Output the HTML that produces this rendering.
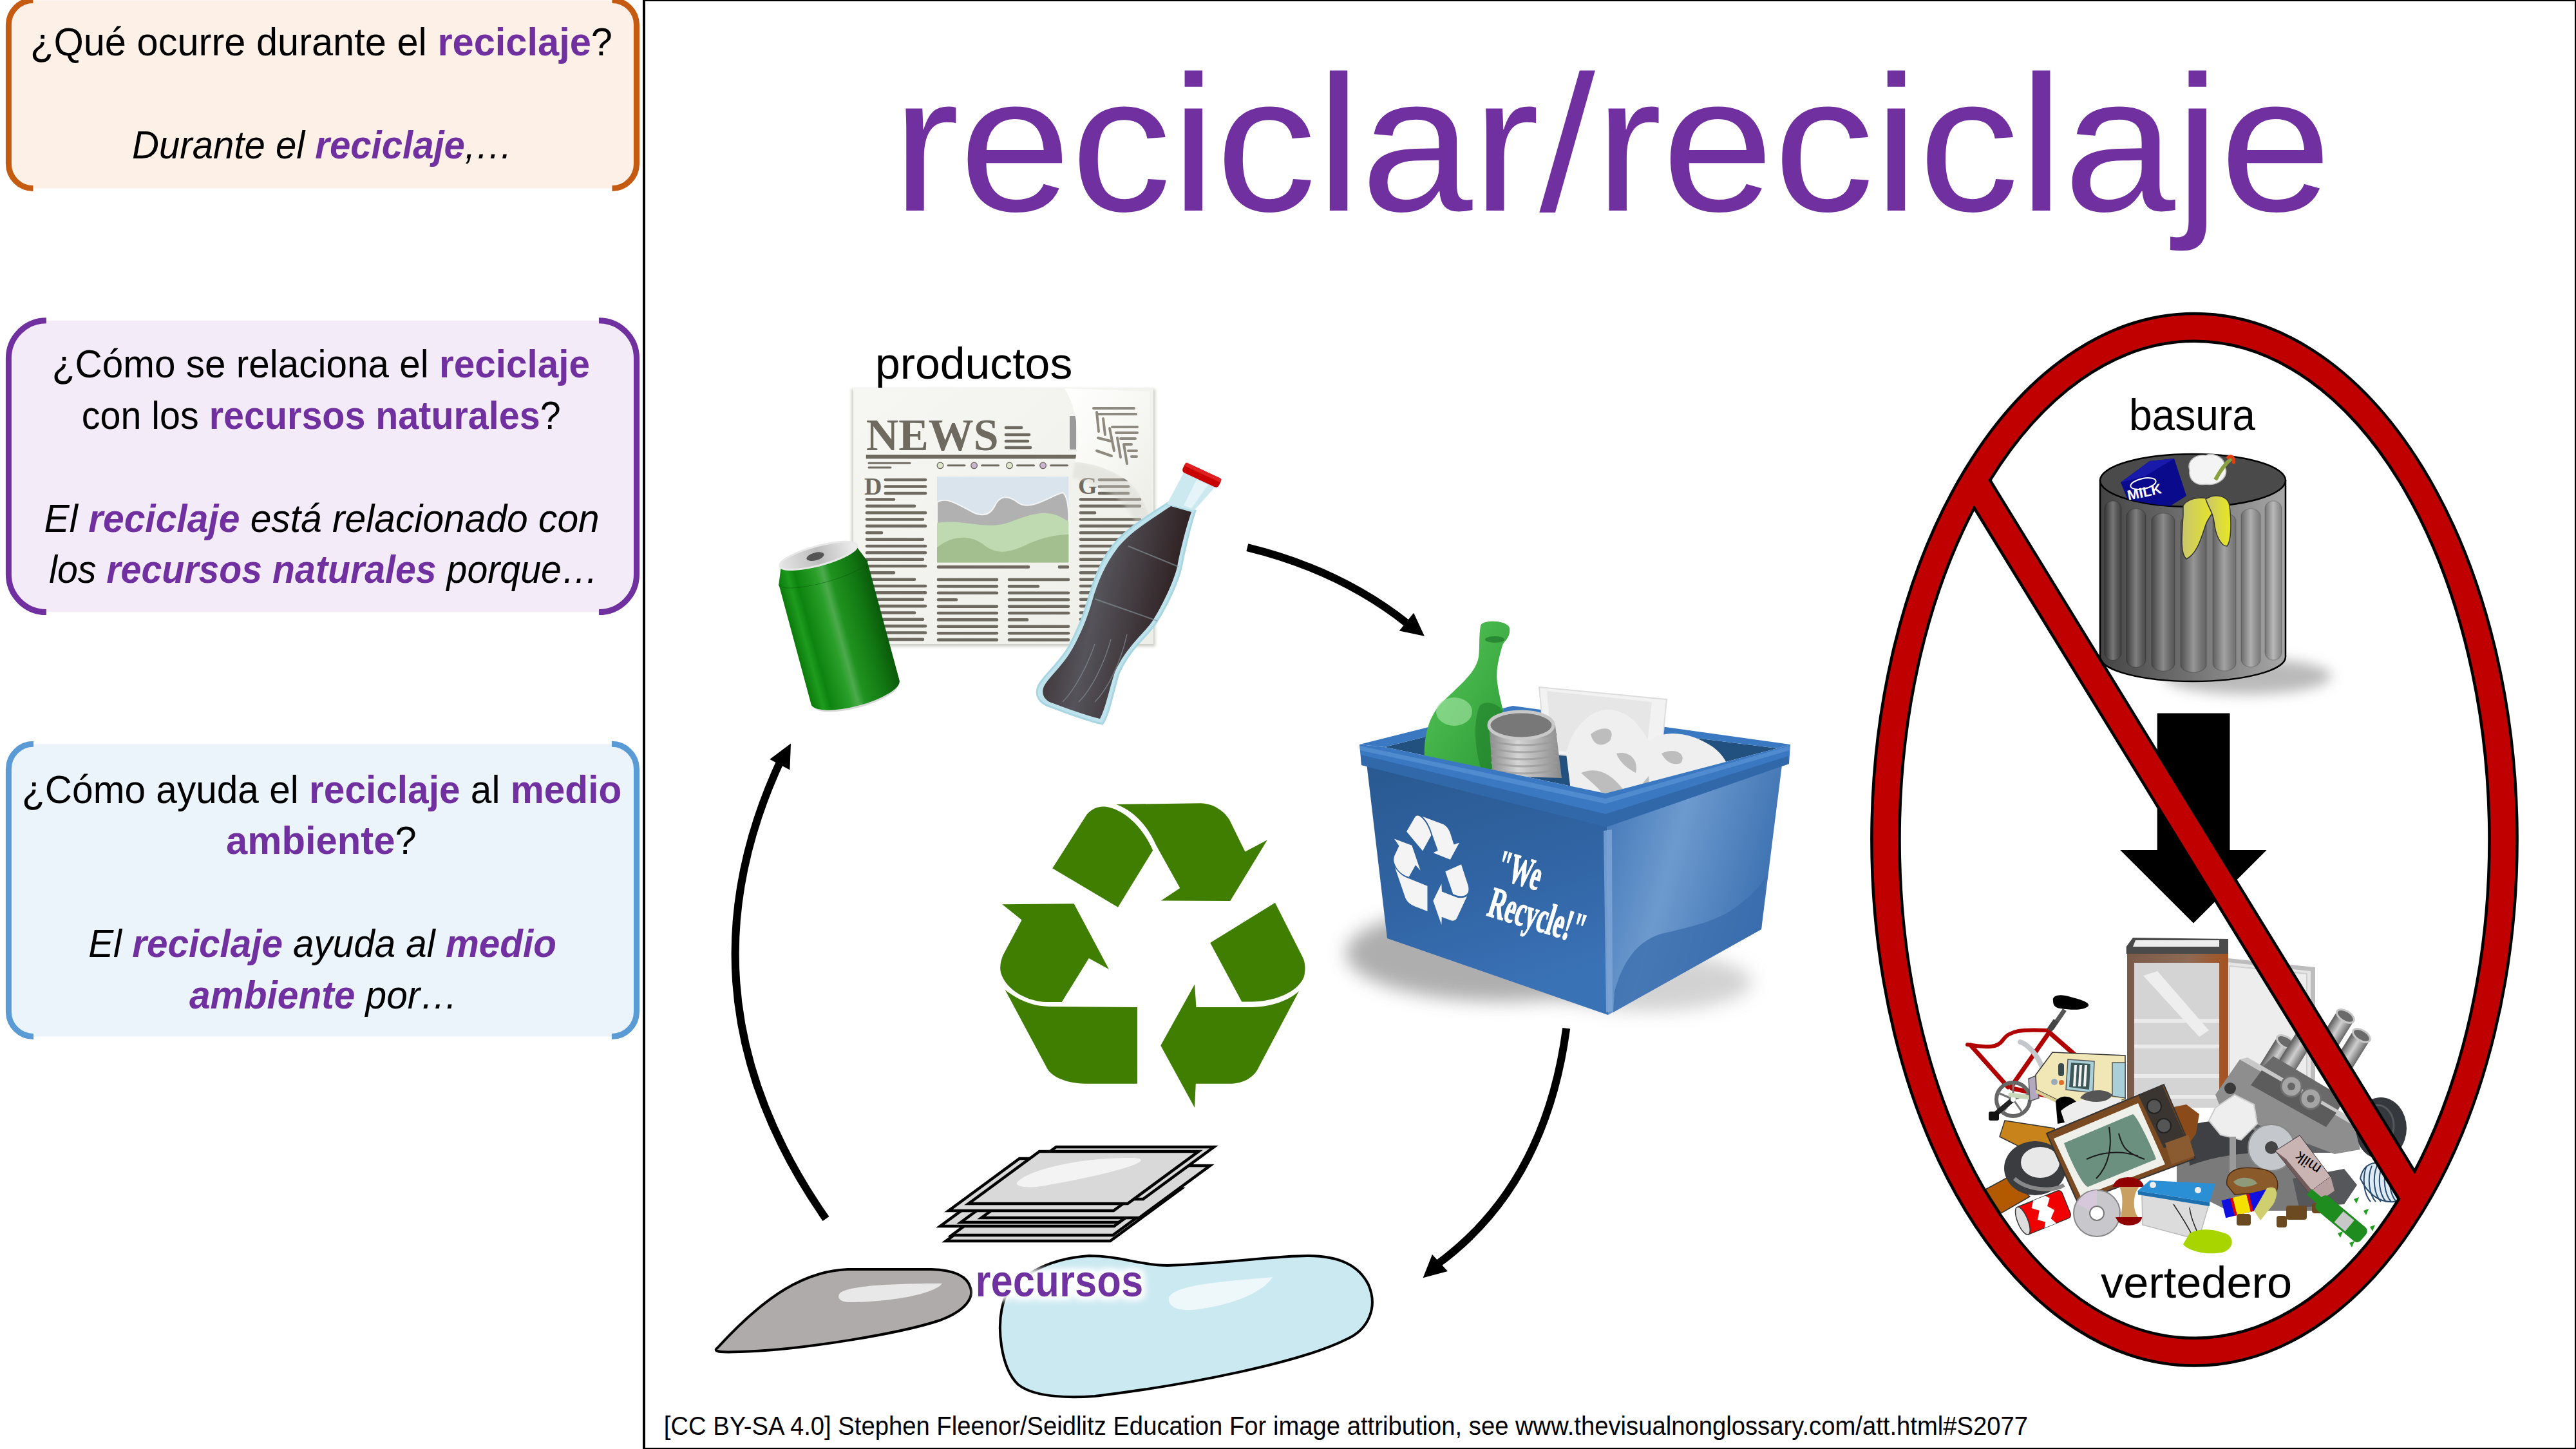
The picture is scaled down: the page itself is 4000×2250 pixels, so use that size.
<!DOCTYPE html>
<html><head><meta charset="utf-8"><style>
html,body{margin:0;padding:0;background:#fff;overflow:hidden}
svg{display:block}
</style></head><body>
<svg width="4000" height="2250" viewBox="0 0 4000 2250">
<rect x="13.4" y="0.5" width="975.1" height="292.0" rx="38" ry="38" fill="#FDF0E7"/><path d="M51.4,0.5 A38,38 0 0 0 13.4,38.5 L13.4,254.5 A38,38 0 0 0 51.4,292.5" fill="none" stroke="#C55A11" stroke-width="9"/><path d="M950.5,0.5 A38,38 0 0 1 988.5,38.5 L988.5,254.5 A38,38 0 0 1 950.5,292.5" fill="none" stroke="#C55A11" stroke-width="9"/>
<rect x="13.4" y="497.7" width="975.1" height="452.90000000000003" rx="58.5" ry="58.5" fill="#F3EBF8"/><path d="M71.9,497.7 A58.5,58.5 0 0 0 13.4,556.2 L13.4,892.1 A58.5,58.5 0 0 0 71.9,950.6" fill="none" stroke="#7030A0" stroke-width="9"/><path d="M930.0,497.7 A58.5,58.5 0 0 1 988.5,556.2 L988.5,892.1 A58.5,58.5 0 0 1 930.0,950.6" fill="none" stroke="#7030A0" stroke-width="9"/>
<rect x="13.4" y="1155.3" width="975.1" height="454.20000000000005" rx="38.6" ry="38.6" fill="#EBF3FB"/><path d="M52.0,1155.3 A38.6,38.6 0 0 0 13.4,1193.8999999999999 L13.4,1570.9 A38.6,38.6 0 0 0 52.0,1609.5" fill="none" stroke="#5B9BD5" stroke-width="9"/><path d="M949.9,1155.3 A38.6,38.6 0 0 1 988.5,1193.8999999999999 L988.5,1570.9 A38.6,38.6 0 0 1 949.9,1609.5" fill="none" stroke="#5B9BD5" stroke-width="9"/>
<g font-family="Liberation Sans, sans-serif">
<text x="47.0" y="86.4" font-size="61" textLength="904.0" lengthAdjust="spacingAndGlyphs" style="" fill="#000"><tspan>¿Qué ocurre durante el </tspan><tspan font-weight="bold" fill="#7030A0">reciclaje</tspan><tspan>?</tspan></text>
<text x="205.0" y="245.9" font-size="61" textLength="591.2" lengthAdjust="spacingAndGlyphs" style="font-style:italic;" fill="#000"><tspan>Durante el </tspan><tspan font-weight="bold" fill="#7030A0">reciclaje</tspan><tspan>,…</tspan></text>
<text x="80.8" y="586.2" font-size="61" textLength="835.2" lengthAdjust="spacingAndGlyphs" style="" fill="#000"><tspan>¿Cómo se relaciona el </tspan><tspan font-weight="bold" fill="#7030A0">reciclaje</tspan></text>
<text x="126.8" y="665.7" font-size="61" textLength="743.8" lengthAdjust="spacingAndGlyphs" style="" fill="#000"><tspan>con los </tspan><tspan font-weight="bold" fill="#7030A0">recursos naturales</tspan><tspan>?</tspan></text>
<text x="68.6" y="825.8" font-size="61" textLength="862.2" lengthAdjust="spacingAndGlyphs" style="font-style:italic;" fill="#000"><tspan>El </tspan><tspan font-weight="bold" fill="#7030A0">reciclaje</tspan><tspan> está relacionado con</tspan></text>
<text x="76.2" y="905" font-size="61" textLength="852.9" lengthAdjust="spacingAndGlyphs" style="font-style:italic;" fill="#000"><tspan>los </tspan><tspan font-weight="bold" fill="#7030A0">recursos naturales</tspan><tspan> porque…</tspan></text>
<text x="34.0" y="1247.2" font-size="61" textLength="931.2" lengthAdjust="spacingAndGlyphs" style="" fill="#000"><tspan>¿Cómo ayuda el </tspan><tspan font-weight="bold" fill="#7030A0">reciclaje</tspan><tspan> al </tspan><tspan font-weight="bold" fill="#7030A0">medio</tspan></text>
<text x="351.0" y="1325.9" font-size="61" textLength="295.7" lengthAdjust="spacingAndGlyphs" style="" fill="#000"><tspan font-weight="bold" fill="#7030A0">ambiente</tspan><tspan>?</tspan></text>
<text x="137.2" y="1486.4" font-size="61" textLength="726.6" lengthAdjust="spacingAndGlyphs" style="font-style:italic;" fill="#000"><tspan>El </tspan><tspan font-weight="bold" fill="#7030A0">reciclaje</tspan><tspan> ayuda al </tspan><tspan font-weight="bold" fill="#7030A0">medio</tspan></text>
<text x="294.0" y="1565.8" font-size="61" textLength="416.9" lengthAdjust="spacingAndGlyphs" style="font-style:italic;" fill="#000"><tspan font-weight="bold" fill="#7030A0">ambiente</tspan><tspan> por…</tspan></text>
</g>
<rect x="1000" y="0" width="3000" height="2250" fill="none" stroke="#000" stroke-width="4"/>
<path d="M1936.8,850.2 Q2080,885 2185,968" fill="none" stroke="#000" stroke-width="12"/><polygon points="2211.9,987.7 2195.2,951.7 2172.8,979.6" fill="#000"/><path d="M2432.2,1596.8 Q2400,1840 2232,1963" fill="none" stroke="#000" stroke-width="12"/><polygon points="2209.6,1984.3 2224,1948 2248,1974" fill="#000"/><path d="M1282.5,1892.5 Q1040,1545 1215,1175" fill="none" stroke="#000" stroke-width="12"/><polygon points="1228,1154.5 1195.3,1179 1226.4,1195.4" fill="#000"/>
<defs><linearGradient id="npg" x1="0" y1="0" x2="1" y2="1"><stop offset="0" stop-color="#F6F6F2"/><stop offset="1" stop-color="#EFEFEA"/></linearGradient><linearGradient id="curlg" x1="0" y1="0" x2="1" y2="1"><stop offset="0" stop-color="#FFFFFF"/><stop offset="0.5" stop-color="#F7F7F3"/><stop offset="1" stop-color="#ECECE6"/></linearGradient><filter id="npsh" x="-5%" y="-5%" width="110%" height="110%"><feGaussianBlur stdDeviation="2"/></filter></defs>
<rect x="1322" y="604" width="472" height="400" fill="#CFCFC8" filter="url(#npsh)"/>
<rect x="1325" y="603" width="466" height="397" fill="url(#npg)"/>
<rect x="1661" y="646" width="10" height="52" fill="#9A9A9A"/>
<text x="1344.8" y="698.7" font-family="Liberation Serif, serif" font-weight="bold" font-size="70" fill="#6E6A60" textLength="205.8" lengthAdjust="spacingAndGlyphs">NEWS</text>
<line x1="1562" y1="664" x2="1586" y2="664" stroke="#6E6A60" stroke-width="4.6" stroke-linecap="round"/>
<line x1="1562" y1="675" x2="1598" y2="675" stroke="#6E6A60" stroke-width="4.6" stroke-linecap="round"/>
<line x1="1562" y1="685" x2="1596" y2="685" stroke="#6E6A60" stroke-width="4.6" stroke-linecap="round"/>
<line x1="1562" y1="695" x2="1600" y2="695" stroke="#6E6A60" stroke-width="4.6" stroke-linecap="round"/>
<rect x="1344.8" y="706" width="330" height="6.3" fill="#6E6A60"/>
<line x1="1349" y1="719" x2="1413" y2="719" stroke="#6E6A60" stroke-width="3" stroke-linecap="round"/>
<line x1="1349" y1="726" x2="1383" y2="726" stroke="#6E6A60" stroke-width="3" stroke-linecap="round"/>
<circle cx="1460" cy="722.8" r="4.8" fill="#DDE6C8" stroke="#6E6A60" stroke-width="1.3"/>
<line x1="1472" y1="722.8" x2="1498" y2="722.8" stroke="#6E6A60" stroke-width="3" stroke-linecap="round"/>
<circle cx="1512.6" cy="722.8" r="4.8" fill="#C9B5CF" stroke="#6E6A60" stroke-width="1.3"/>
<line x1="1524.6" y1="722.8" x2="1550.6" y2="722.8" stroke="#6E6A60" stroke-width="3" stroke-linecap="round"/>
<circle cx="1567.5" cy="722.8" r="4.8" fill="#DDE6C8" stroke="#6E6A60" stroke-width="1.3"/>
<line x1="1579.5" y1="722.8" x2="1605.5" y2="722.8" stroke="#6E6A60" stroke-width="3" stroke-linecap="round"/>
<circle cx="1619.6" cy="722.8" r="4.8" fill="#C9B5CF" stroke="#6E6A60" stroke-width="1.3"/>
<line x1="1631.6" y1="722.8" x2="1657.6" y2="722.8" stroke="#6E6A60" stroke-width="3" stroke-linecap="round"/>
<text x="1342" y="768" font-family="Liberation Serif, serif" font-weight="bold" font-size="38" fill="#6E6A60">D</text>
<text x="1674" y="767" font-family="Liberation Serif, serif" font-weight="bold" font-size="38" fill="#6E6A60">G</text>
<line x1="1375" y1="745" x2="1437" y2="745" stroke="#6E6A60" stroke-width="4.6" stroke-linecap="round"/>
<line x1="1375" y1="755.5" x2="1437" y2="755.5" stroke="#6E6A60" stroke-width="4.6" stroke-linecap="round"/>
<line x1="1375" y1="766" x2="1437" y2="766" stroke="#6E6A60" stroke-width="4.6" stroke-linecap="round"/>
<line x1="1346" y1="775.5" x2="1388" y2="775.5" stroke="#6E6A60" stroke-width="4.6" stroke-linecap="round"/>
<line x1="1346" y1="785.85" x2="1420" y2="785.85" stroke="#6E6A60" stroke-width="4.6" stroke-linecap="round"/>
<line x1="1346" y1="796.2" x2="1437" y2="796.2" stroke="#6E6A60" stroke-width="4.6" stroke-linecap="round"/>
<line x1="1346" y1="806.55" x2="1433" y2="806.55" stroke="#6E6A60" stroke-width="4.6" stroke-linecap="round"/>
<line x1="1346" y1="816.9" x2="1437" y2="816.9" stroke="#6E6A60" stroke-width="4.6" stroke-linecap="round"/>
<line x1="1346" y1="827.25" x2="1369" y2="827.25" stroke="#6E6A60" stroke-width="4.6" stroke-linecap="round"/>
<line x1="1346" y1="837.6" x2="1433" y2="837.6" stroke="#6E6A60" stroke-width="4.6" stroke-linecap="round"/>
<line x1="1346" y1="847.95" x2="1437" y2="847.95" stroke="#6E6A60" stroke-width="4.6" stroke-linecap="round"/>
<line x1="1346" y1="858.3" x2="1437" y2="858.3" stroke="#6E6A60" stroke-width="4.6" stroke-linecap="round"/>
<line x1="1346" y1="868.65" x2="1433" y2="868.65" stroke="#6E6A60" stroke-width="4.6" stroke-linecap="round"/>
<line x1="1346" y1="879.0" x2="1437" y2="879.0" stroke="#6E6A60" stroke-width="4.6" stroke-linecap="round"/>
<line x1="1346" y1="889.35" x2="1388" y2="889.35" stroke="#6E6A60" stroke-width="4.6" stroke-linecap="round"/>
<line x1="1346" y1="899.7" x2="1420" y2="899.7" stroke="#6E6A60" stroke-width="4.6" stroke-linecap="round"/>
<line x1="1346" y1="910.05" x2="1437" y2="910.05" stroke="#6E6A60" stroke-width="4.6" stroke-linecap="round"/>
<line x1="1346" y1="920.4" x2="1437" y2="920.4" stroke="#6E6A60" stroke-width="4.6" stroke-linecap="round"/>
<line x1="1346" y1="930.75" x2="1433" y2="930.75" stroke="#6E6A60" stroke-width="4.6" stroke-linecap="round"/>
<line x1="1346" y1="941.1" x2="1437" y2="941.1" stroke="#6E6A60" stroke-width="4.6" stroke-linecap="round"/>
<line x1="1346" y1="951.45" x2="1420" y2="951.45" stroke="#6E6A60" stroke-width="4.6" stroke-linecap="round"/>
<line x1="1346" y1="961.8" x2="1433" y2="961.8" stroke="#6E6A60" stroke-width="4.6" stroke-linecap="round"/>
<line x1="1346" y1="972.15" x2="1437" y2="972.15" stroke="#6E6A60" stroke-width="4.6" stroke-linecap="round"/>
<line x1="1346" y1="982.5" x2="1437" y2="982.5" stroke="#6E6A60" stroke-width="4.6" stroke-linecap="round"/>
<line x1="1346" y1="992.85" x2="1433" y2="992.85" stroke="#6E6A60" stroke-width="4.6" stroke-linecap="round"/>
<rect x="1455" y="740" width="204.3" height="133.5" fill="#DAE4EC"/>
<path d="M1455,780 C1470,770 1490,785 1510,795 C1530,805 1540,795 1545,785 C1552,770 1565,768 1580,780 C1600,795 1630,770 1650,765 C1658,770 1659,790 1659.3,800 L1659.3,873.5 L1455,873.5 Z" fill="#B1B1B1" stroke="#F4F4F4" stroke-width="2"/>
<path d="M1455,812 C1500,805 1530,825 1570,810 C1610,795 1630,790 1659.3,810 L1659.3,873.5 L1455,873.5 Z" fill="#BFDAB0"/>
<path d="M1455,850 C1480,830 1510,830 1530,848 C1550,862 1570,858 1600,843 C1620,835 1640,830 1659.3,830 L1659.3,873.5 L1455,873.5 Z" fill="#A3BF8F"/>
<line x1="1457" y1="880.4" x2="1597" y2="880.4" stroke="#6E6A60" stroke-width="4.6" stroke-linecap="round"/>
<line x1="1645" y1="880.4" x2="1658" y2="880.4" stroke="#6E6A60" stroke-width="4.6" stroke-linecap="round"/>
<line x1="1457" y1="900.0" x2="1548" y2="900.0" stroke="#6E6A60" stroke-width="4.6" stroke-linecap="round"/>
<line x1="1567" y1="900.0" x2="1659" y2="900.0" stroke="#6E6A60" stroke-width="4.6" stroke-linecap="round"/>
<line x1="1457" y1="910.4" x2="1548" y2="910.4" stroke="#6E6A60" stroke-width="4.6" stroke-linecap="round"/>
<line x1="1567" y1="910.4" x2="1612" y2="910.4" stroke="#6E6A60" stroke-width="4.6" stroke-linecap="round"/>
<line x1="1457" y1="920.8" x2="1548" y2="920.8" stroke="#6E6A60" stroke-width="4.6" stroke-linecap="round"/>
<line x1="1567" y1="920.8" x2="1659" y2="920.8" stroke="#6E6A60" stroke-width="4.6" stroke-linecap="round"/>
<line x1="1457" y1="931.2" x2="1485" y2="931.2" stroke="#6E6A60" stroke-width="4.6" stroke-linecap="round"/>
<line x1="1567" y1="931.2" x2="1659" y2="931.2" stroke="#6E6A60" stroke-width="4.6" stroke-linecap="round"/>
<line x1="1457" y1="941.6" x2="1548" y2="941.6" stroke="#6E6A60" stroke-width="4.6" stroke-linecap="round"/>
<line x1="1567" y1="941.6" x2="1659" y2="941.6" stroke="#6E6A60" stroke-width="4.6" stroke-linecap="round"/>
<line x1="1457" y1="952.0" x2="1548" y2="952.0" stroke="#6E6A60" stroke-width="4.6" stroke-linecap="round"/>
<line x1="1567" y1="952.0" x2="1659" y2="952.0" stroke="#6E6A60" stroke-width="4.6" stroke-linecap="round"/>
<line x1="1457" y1="962.4" x2="1548" y2="962.4" stroke="#6E6A60" stroke-width="4.6" stroke-linecap="round"/>
<line x1="1567" y1="962.4" x2="1595" y2="962.4" stroke="#6E6A60" stroke-width="4.6" stroke-linecap="round"/>
<line x1="1457" y1="972.8" x2="1548" y2="972.8" stroke="#6E6A60" stroke-width="4.6" stroke-linecap="round"/>
<line x1="1567" y1="972.8" x2="1659" y2="972.8" stroke="#6E6A60" stroke-width="4.6" stroke-linecap="round"/>
<line x1="1457" y1="983.2" x2="1548" y2="983.2" stroke="#6E6A60" stroke-width="4.6" stroke-linecap="round"/>
<line x1="1567" y1="983.2" x2="1659" y2="983.2" stroke="#6E6A60" stroke-width="4.6" stroke-linecap="round"/>
<line x1="1457" y1="993.6" x2="1548" y2="993.6" stroke="#6E6A60" stroke-width="4.6" stroke-linecap="round"/>
<line x1="1567" y1="993.6" x2="1659" y2="993.6" stroke="#6E6A60" stroke-width="4.6" stroke-linecap="round"/>
<line x1="1707" y1="745" x2="1752" y2="745" stroke="#6E6A60" stroke-width="4.6" stroke-linecap="round"/>
<line x1="1707" y1="755.5" x2="1752" y2="755.5" stroke="#6E6A60" stroke-width="4.6" stroke-linecap="round"/>
<line x1="1707" y1="766" x2="1752" y2="766" stroke="#6E6A60" stroke-width="4.6" stroke-linecap="round"/>
<line x1="1678" y1="775.5" x2="1770" y2="775.5" stroke="#6E6A60" stroke-width="4.6" stroke-linecap="round"/>
<line x1="1678" y1="785.85" x2="1770" y2="785.85" stroke="#6E6A60" stroke-width="4.6" stroke-linecap="round"/>
<line x1="1678" y1="796.2" x2="1700" y2="796.2" stroke="#6E6A60" stroke-width="4.6" stroke-linecap="round"/>
<line x1="1678" y1="806.55" x2="1770" y2="806.55" stroke="#6E6A60" stroke-width="4.6" stroke-linecap="round"/>
<line x1="1678" y1="816.9" x2="1770" y2="816.9" stroke="#6E6A60" stroke-width="4.6" stroke-linecap="round"/>
<line x1="1678" y1="827.25" x2="1770" y2="827.25" stroke="#6E6A60" stroke-width="4.6" stroke-linecap="round"/>
<line x1="1678" y1="837.6" x2="1770" y2="837.6" stroke="#6E6A60" stroke-width="4.6" stroke-linecap="round"/>
<line x1="1678" y1="847.95" x2="1770" y2="847.95" stroke="#6E6A60" stroke-width="4.6" stroke-linecap="round"/>
<line x1="1678" y1="858.3" x2="1770" y2="858.3" stroke="#6E6A60" stroke-width="4.6" stroke-linecap="round"/>
<line x1="1678" y1="868.65" x2="1725" y2="868.65" stroke="#6E6A60" stroke-width="4.6" stroke-linecap="round"/>
<line x1="1678" y1="879.0" x2="1770" y2="879.0" stroke="#6E6A60" stroke-width="4.6" stroke-linecap="round"/>
<line x1="1678" y1="889.35" x2="1770" y2="889.35" stroke="#6E6A60" stroke-width="4.6" stroke-linecap="round"/>
<line x1="1678" y1="899.7" x2="1770" y2="899.7" stroke="#6E6A60" stroke-width="4.6" stroke-linecap="round"/>
<line x1="1678" y1="910.05" x2="1770" y2="910.05" stroke="#6E6A60" stroke-width="4.6" stroke-linecap="round"/>
<line x1="1678" y1="920.4" x2="1770" y2="920.4" stroke="#6E6A60" stroke-width="4.6" stroke-linecap="round"/>
<line x1="1678" y1="930.75" x2="1770" y2="930.75" stroke="#6E6A60" stroke-width="4.6" stroke-linecap="round"/>
<line x1="1678" y1="941.1" x2="1770" y2="941.1" stroke="#6E6A60" stroke-width="4.6" stroke-linecap="round"/>
<line x1="1678" y1="951.45" x2="1770" y2="951.45" stroke="#6E6A60" stroke-width="4.6" stroke-linecap="round"/>
<line x1="1678" y1="961.8" x2="1770" y2="961.8" stroke="#6E6A60" stroke-width="4.6" stroke-linecap="round"/>
<line x1="1678" y1="972.15" x2="1770" y2="972.15" stroke="#6E6A60" stroke-width="4.6" stroke-linecap="round"/>
<line x1="1678" y1="982.5" x2="1770" y2="982.5" stroke="#6E6A60" stroke-width="4.6" stroke-linecap="round"/>
<line x1="1678" y1="992.85" x2="1770" y2="992.85" stroke="#6E6A60" stroke-width="4.6" stroke-linecap="round"/>
<path d="M1669,717 C1700,720 1725,728 1750,746 C1775,765 1786,800 1790,822 L1791,900 C1780,840 1760,790 1730,770 C1700,752 1680,745 1665,742 Z" fill="#D5D5CF" opacity="0.4" filter="url(#npsh)"/>
<path d="M1653,603 L1785,608 L1790,822 C1786,800 1775,765 1750,746 C1725,728 1700,720 1669,717 C1676,690 1676,640 1653,603 Z" fill="url(#curlg)"/>
<line x1="1698" y1="634" x2="1761" y2="634" stroke="#8E8A80" stroke-width="4" stroke-linecap="round"/>
<line x1="1705" y1="643" x2="1764" y2="643" stroke="#8E8A80" stroke-width="4" stroke-linecap="round"/>
<line x1="1727" y1="663" x2="1766" y2="663" stroke="#8E8A80" stroke-width="4" stroke-linecap="round"/>
<line x1="1733" y1="672" x2="1766" y2="672" stroke="#8E8A80" stroke-width="4" stroke-linecap="round"/>
<line x1="1740" y1="681" x2="1763" y2="681" stroke="#8E8A80" stroke-width="4" stroke-linecap="round"/>
<line x1="1747" y1="690" x2="1757" y2="690" stroke="#8E8A80" stroke-width="4" stroke-linecap="round"/>
<line x1="1752" y1="700" x2="1765" y2="700" stroke="#8E8A80" stroke-width="4" stroke-linecap="round"/>
<line x1="1757" y1="709" x2="1765" y2="709" stroke="#8E8A80" stroke-width="4" stroke-linecap="round"/>
<line x1="1703" y1="640" x2="1706" y2="670" stroke="#8E8A80" stroke-width="4" stroke-linecap="round"/>
<line x1="1713" y1="650" x2="1716" y2="675" stroke="#8E8A80" stroke-width="4" stroke-linecap="round"/>
<line x1="1723" y1="665" x2="1730" y2="700" stroke="#8E8A80" stroke-width="4" stroke-linecap="round"/>
<line x1="1735" y1="680" x2="1740" y2="710" stroke="#8E8A80" stroke-width="4" stroke-linecap="round"/>
<line x1="1745" y1="690" x2="1750" y2="720" stroke="#8E8A80" stroke-width="4" stroke-linecap="round"/>
<line x1="1705" y1="680" x2="1725" y2="685" stroke="#8E8A80" stroke-width="4" stroke-linecap="round"/>
<line x1="1703" y1="700" x2="1726" y2="708" stroke="#8E8A80" stroke-width="4" stroke-linecap="round"/>
<defs><linearGradient id="cang" x1="0" y1="0" x2="1" y2="0"><stop offset="0" stop-color="#0B7A0B"/><stop offset="0.12" stop-color="#1E9B1E"/><stop offset="0.2" stop-color="#0E8410"/><stop offset="0.42" stop-color="#2AA02A"/><stop offset="0.5" stop-color="#4CAA4C"/><stop offset="0.58" stop-color="#1F921F"/><stop offset="0.8" stop-color="#137A13"/><stop offset="1" stop-color="#0A5A0A"/></linearGradient><linearGradient id="lidg" x1="0" y1="0" x2="1" y2="0"><stop offset="0" stop-color="#E6E6E6"/><stop offset="0.5" stop-color="#BDBDBD"/><stop offset="1" stop-color="#F0F0F0"/></linearGradient></defs>
<g transform="translate(1300,971) rotate(-15.1)"><ellipse cx="0" cy="112" rx="68" ry="20" fill="#D9D9D9"/><path d="M-71,-85 L-71,108 A71,21 0 0 0 71,108 L71,-85 Z" fill="url(#cang)"/><path d="M-71,-85 A71,15 0 0 0 71,-85" fill="none" stroke="#0A5A0A" stroke-width="2" opacity="0.5"/><path d="M-71,-85 L-60,-112 L60,-112 L71,-85 A71,15 0 0 1 -71,-85 Z" fill="url(#cang)"/><ellipse cx="0" cy="-112" rx="62" ry="15" fill="url(#lidg)" stroke="#E8E8E8" stroke-width="3"/><ellipse cx="-5" cy="-112" rx="14" ry="6" fill="#555"/></g>
<defs><linearGradient id="colag" x1="0" y1="0" x2="1" y2="0.3"><stop offset="0" stop-color="#2E1E20"/><stop offset="0.45" stop-color="#55545A"/><stop offset="1" stop-color="#2A1A1C"/></linearGradient></defs>
<path d="M1815,780 C1785,800 1750,820 1730,845 C1708,872 1697,905 1690,931 C1682,960 1670,985 1660,1004 C1645,1030 1620,1050 1613,1064 C1605,1080 1615,1092 1630,1097 C1660,1108 1690,1120 1712,1124 C1722,1110 1728,1075 1737,1046 C1755,1005 1785,985 1797,964 C1815,935 1830,900 1834,882 C1840,850 1850,810 1856,793 L1812,783 Z" fill="#BFE3EC" stroke="#A9D6E3" stroke-width="3"/>
<path d="M1818,786 C1790,805 1756,825 1736,850 C1716,876 1704,905 1696,933 C1688,962 1676,988 1666,1006 C1652,1032 1628,1052 1621,1066 C1616,1078 1622,1088 1635,1092 C1662,1102 1690,1112 1708,1116 C1716,1102 1722,1072 1731,1044 C1749,1003 1779,982 1791,962 C1809,933 1824,898 1828,880 C1834,848 1844,812 1850,795 Z" fill="url(#colag)"/>
<polygon points="1838,734 1887,756 1854,793 1812,783" fill="#CDE9F0"/>
<polygon points="1858,745 1876,753 1850,789 1838,785" fill="#E4F4F8"/>
<rect x="1835" y="730" width="62" height="16" rx="5" transform="rotate(25 1866 738)" fill="#C80000"/>
<rect x="1835" y="730" width="62" height="6" rx="3" transform="rotate(25 1866 738)" fill="#E02020"/>
<path d="M1700,1000.0 C1690,1030 1670,1070 1650,1090" fill="none" stroke="#8A9AA0" stroke-width="1.5" opacity="0.6"/>
<path d="M1725,992.5 C1715,1030 1695,1070 1675,1090" fill="none" stroke="#8A9AA0" stroke-width="1.5" opacity="0.6"/>
<path d="M1750,985.0 C1740,1030 1720,1070 1700,1090" fill="none" stroke="#8A9AA0" stroke-width="1.5" opacity="0.6"/>
<path d="M1752,848 L1830,880" stroke="#8A9AA0" stroke-width="2" opacity="0.6"/>
<path d="M1700,930 L1797,964" stroke="#8A9AA0" stroke-width="2" opacity="0.6"/>
<defs><linearGradient id="binfront" x1="0" y1="0" x2="0.3" y2="1"><stop offset="0" stop-color="#2A5990"/><stop offset="0.6" stop-color="#3165A5"/><stop offset="1" stop-color="#3A72B6"/></linearGradient><linearGradient id="binright" x1="0" y1="0" x2="1" y2="0.4"><stop offset="0" stop-color="#3E74B5"/><stop offset="0.45" stop-color="#6D9ACE"/><stop offset="1" stop-color="#3A6FB0"/></linearGradient><linearGradient id="bgbot" x1="0" y1="0" x2="1" y2="1"><stop offset="0" stop-color="#56C85A"/><stop offset="1" stop-color="#2E9A35"/></linearGradient><linearGradient id="bincan" x1="0" y1="0" x2="1" y2="0"><stop offset="0" stop-color="#8A8A8A"/><stop offset="0.4" stop-color="#D5D5D5"/><stop offset="1" stop-color="#8A8A8A"/></linearGradient><filter id="blur8" x="-50%" y="-100%" width="200%" height="300%"><feGaussianBlur stdDeviation="14"/></filter></defs>
<ellipse cx="2330" cy="1480" rx="240" ry="75" fill="#A0A0A0" filter="url(#blur8)" opacity="0.85"/>
<ellipse cx="2560" cy="1525" rx="160" ry="45" fill="#B5B5B5" filter="url(#blur8)" opacity="0.6"/>
<polygon points="2150,1160 2349,1110 2760,1162 2493,1232" fill="#22507F"/>
<polygon points="2111,1156 2349,1096 2780,1156 2760,1162 2349,1110 2150,1160" fill="#3B78C2"/>
<path d="M2299,972 C2300,962 2340,962 2344,975 C2346,990 2336,995 2333,1002 C2328,1020 2322,1040 2325,1060 C2328,1085 2338,1110 2336,1130 L2320,1200 L2212,1180 C2210,1140 2220,1110 2240,1090 C2265,1065 2292,1045 2296,1020 C2298,1005 2296,990 2299,972 Z" fill="url(#bgbot)"/>
<path d="M2296,1100 C2300,1085 2330,1090 2336,1110 C2340,1140 2330,1175 2318,1200 L2300,1195 C2290,1160 2288,1125 2296,1100 Z" fill="#1E7A28" opacity="0.55"/>
<ellipse cx="2321" cy="993" rx="15" ry="5" fill="#2A8A34"/>
<ellipse cx="2258" cy="1105" rx="28" ry="22" fill="#A8E8A8" opacity="0.6"/>
<polygon points="2390,1067 2588,1086 2578,1185 2400,1170" fill="#F2F2F2" stroke="#DDD" stroke-width="2"/>
<polygon points="2402,1073 2565,1090 2555,1180 2410,1165" fill="#E6E6E6"/>
<path d="M2312,1126 L2318,1205 L2425,1208 L2415,1126 Z" fill="url(#bincan)"/>
<path d="M2315,1140 Q2365,1152 2418,1140" stroke="#9A9A9A" stroke-width="3" fill="none" opacity="0.7"/>
<path d="M2315,1151 Q2365,1163 2418,1151" stroke="#9A9A9A" stroke-width="3" fill="none" opacity="0.7"/>
<path d="M2315,1162 Q2365,1174 2418,1162" stroke="#9A9A9A" stroke-width="3" fill="none" opacity="0.7"/>
<path d="M2315,1173 Q2365,1185 2418,1173" stroke="#9A9A9A" stroke-width="3" fill="none" opacity="0.7"/>
<path d="M2315,1184 Q2365,1196 2418,1184" stroke="#9A9A9A" stroke-width="3" fill="none" opacity="0.7"/>
<path d="M2315,1195 Q2365,1207 2418,1195" stroke="#9A9A9A" stroke-width="3" fill="none" opacity="0.7"/>
<ellipse cx="2362" cy="1126" rx="50" ry="21" fill="#787878" stroke="#C8C8C8" stroke-width="5"/>
<path d="M2432,1170 C2440,1130 2470,1100 2500,1102 C2530,1105 2545,1125 2560,1150 C2590,1130 2630,1140 2660,1160 C2680,1175 2690,1195 2684,1222 L2560,1255 L2440,1235 Z" fill="#EFEFEF"/>
<path d="M2470,1140 C2490,1125 2510,1130 2500,1150 C2490,1160 2475,1160 2470,1140 Z M2455,1200 C2480,1190 2500,1200 2520,1225 L2490,1235 C2480,1220 2465,1210 2455,1200 Z M2510,1170 C2530,1165 2545,1180 2540,1200 C2530,1195 2515,1185 2510,1170 Z M2580,1170 C2600,1160 2620,1170 2610,1185 C2595,1190 2585,1180 2580,1170 Z M2620,1200 C2640,1195 2660,1205 2670,1215 L2640,1222 Z M2540,1230 L2560,1205 L2562,1250 Z" fill="#BDBDBD"/>
<polygon points="2122,1185 2495,1275 2497,1576 2154,1457" fill="url(#binfront)"/>
<polygon points="2495,1275 2768,1180 2735,1443 2497,1576" fill="url(#binright)"/>
<path d="M2507,1540 C2520,1490 2545,1460 2580,1450 C2630,1438 2670,1430 2700,1405 C2720,1390 2735,1375 2742,1360 L2735,1443 L2505,1572 Z" fill="#3A6CAC" opacity="0.75"/>
<polygon points="2490,1290 2503,1288 2504,1570 2494,1572" fill="#7FA7D8" opacity="0.8"/>
<polygon points="2111,1156 2150,1160 2493,1232 2760,1162 2780,1156 2778,1186 2495,1284 2114,1188" fill="#3B78C2"/>
<polygon points="2114,1188 2495,1284 2778,1186 2777,1174 2493,1264 2113,1172" fill="#3168AA"/>
<polygon points="2111,1158 2493,1240 2780,1158 2779,1165 2493,1248 2112,1165" fill="#5A93D6" opacity="0.7"/>
<g transform="translate(2161,1243) skewY(21.3) scale(0.0847,0.1147)" fill="#F4F4F4"><path d="M273,343 L428,100 C455,70 485,62 515,66 C600,80 680,160 725,262 L568,518 Z"/><path d="M560,55 L940,50 C1000,52 1045,85 1070,125 L1140,268 L1240,215 L1073,490 L762,488 L847,432 L740,240 C700,150 640,85 560,55 Z"/><path d="M47,505 L370,502 L527,797 L437,748 L315,945 L245,945 C150,940 60,885 40,810 C35,780 42,755 50,735 L135,575 Z"/><path d="M60,890 C130,945 200,965 260,965 L655,968 L655,1312 L420,1312 C330,1310 270,1280 250,1245 Z"/><path d="M983,678 L1275,498 L1400,745 C1412,770 1412,805 1405,830 C1380,900 1270,943 1170,943 L1125,943 Z"/><path d="M1383,895 C1330,945 1240,968 1170,968 L920,968 L913,865 L760,1140 L913,1420 L918,1312 L1070,1312 C1140,1312 1185,1275 1200,1240 Z"/></g>
<text x="0" y="0" font-family="Liberation Serif, serif" font-weight="bold" font-size="66" fill="#FFF" stroke="#FFF" stroke-width="1.5" textLength="70" lengthAdjust="spacingAndGlyphs" transform="translate(2320,1362) rotate(17)">"We</text>
<text x="0" y="0" font-family="Liberation Serif, serif" font-weight="bold" font-size="68" fill="#FFF" stroke="#FFF" stroke-width="1.5" textLength="154" lengthAdjust="spacingAndGlyphs" transform="translate(2307,1421) rotate(17)">Recycle!"</text>
<g transform="translate(1540,1230) scale(0.34507)" fill="#3F7E00"><path d="M273,343 L428,100 C455,70 485,62 515,66 C600,80 680,160 725,262 L568,518 Z"/><path d="M560,55 L940,50 C1000,52 1045,85 1070,125 L1140,268 L1240,215 L1073,490 L762,488 L847,432 L740,240 C700,150 640,85 560,55 Z"/><path d="M47,505 L370,502 L527,797 L437,748 L315,945 L245,945 C150,940 60,885 40,810 C35,780 42,755 50,735 L135,575 Z"/><path d="M60,890 C130,945 200,965 260,965 L655,968 L655,1312 L420,1312 C330,1310 270,1280 250,1245 Z"/><path d="M983,678 L1275,498 L1400,745 C1412,770 1412,805 1405,830 C1380,900 1270,943 1170,943 L1125,943 Z"/><path d="M1383,895 C1330,945 1240,968 1170,968 L920,968 L913,865 L760,1140 L913,1420 L918,1312 L1070,1312 C1140,1312 1185,1275 1200,1240 Z"/></g>
<polygon points="1578.998,1846 1833.998,1846 1724,1927 1469,1927" fill="#D9D9D9" stroke="#000" stroke-width="4.5" stroke-linejoin="miter"/><polygon points="1587.998,1837 1837.998,1837 1728,1918 1478,1918" fill="#D9D9D9" stroke="#000" stroke-width="4.5" stroke-linejoin="miter"/><polygon points="1569.998,1823 1839.998,1823 1730,1904 1460,1904" fill="#D9D9D9" stroke="#000" stroke-width="4.5" stroke-linejoin="miter"/><polygon points="1601.998,1817 1846.998,1817 1737,1898 1492,1898" fill="#D9D9D9" stroke="#000" stroke-width="4.5" stroke-linejoin="miter"/><polygon points="1633.998,1810 1878.998,1810 1769,1891 1524,1891" fill="#D9D9D9" stroke="#000" stroke-width="4.5" stroke-linejoin="miter"/><polygon points="1582.998,1799 1838.998,1799 1729,1880 1473,1880" fill="#D9D9D9" stroke="#000" stroke-width="4.5" stroke-linejoin="miter"/><polygon points="1639.998,1781 1884.998,1781 1775,1862 1530,1862" fill="#D9D9D9" stroke="#000" stroke-width="4.5" stroke-linejoin="miter"/><polygon points="1613.998,1788 1860.998,1788 1751,1869 1504,1869" fill="#D9D9D9" stroke="#000" stroke-width="4.5" stroke-linejoin="miter"/><path d="M1580,1835 C1600,1815 1680,1797 1760,1798 C1800,1800 1735,1822 1610,1843 C1585,1845 1575,1840 1580,1835 Z" fill="#F3F3F3"/>
<path d="M1114,2093 C1105,2100 1125,2100 1149,2099 C1250,2096 1400,2070 1460,2050 C1500,2035 1512,2015 1507,2000 C1502,1980 1480,1972 1446,1971 L1316,1971 C1250,1974 1190,2010 1114,2093 Z" fill="#AFABAA" stroke="#000" stroke-width="4"/><path d="M1303,2010 C1310,1995 1400,1993 1463,1993 C1450,2010 1380,2022 1320,2022 C1305,2022 1300,2016 1303,2010 Z" fill="#E8E8E8"/><path d="M1560,2016 C1580,1985 1620,1955 1691,1950 C1740,1950 1770,1965 1813,1965 C1900,1962 1980,1950 2030,1950 C2080,1950 2110,1965 2125,1995 C2140,2030 2125,2065 2090,2080 C2020,2115 1850,2150 1700,2168 C1640,2172 1600,2165 1581,2150 C1555,2125 1545,2060 1560,2016 Z" fill="#CBE9F1" stroke="#000" stroke-width="4"/><path d="M1815,2020 C1810,1995 1900,1990 1976,1983 C1960,2010 1900,2030 1850,2034 C1830,2035 1817,2030 1815,2020 Z" fill="#EEF7FA"/>
<defs><linearGradient id="flute" x1="0" y1="0" x2="1" y2="0"><stop offset="0" stop-color="#000" stop-opacity="0.25"/><stop offset="0.5" stop-color="#FFF" stop-opacity="0.25"/><stop offset="1" stop-color="#000" stop-opacity="0.2"/></linearGradient><linearGradient id="tcbody" x1="0" y1="0" x2="1" y2="0"><stop offset="0" stop-color="#444444"/><stop offset="0.45" stop-color="#6E6E6E"/><stop offset="1" stop-color="#A8A8A8"/></linearGradient><linearGradient id="banana" x1="0" y1="0" x2="1" y2="0"><stop offset="0" stop-color="#C9C66E"/><stop offset="1" stop-color="#E8E820"/></linearGradient><filter id="blur6" x="-50%" y="-150%" width="200%" height="400%"><feGaussianBlur stdDeviation="10"/></filter></defs>
<ellipse cx="3490" cy="1050" rx="130" ry="28" fill="#A8A8A8" filter="url(#blur6)" opacity="0.8"/>
<path d="M3261,746 L3261,1020 A144,38 0 0 0 3549,1020 L3549,746 Z" fill="url(#tcbody)" stroke="#000" stroke-width="2.5"/>
<rect x="3268" y="778" width="26" height="247.31983884093006" rx="13.0" ry="12" fill="url(#flute)" stroke="#000" stroke-opacity="0.15" stroke-width="1.5"/>
<rect x="3302" y="790" width="30" height="246.07870334741392" rx="15.0" ry="12" fill="url(#flute)" stroke="#000" stroke-opacity="0.15" stroke-width="1.5"/>
<rect x="3341" y="797" width="36" height="245.00899021832197" rx="18.0" ry="12" fill="url(#flute)" stroke="#000" stroke-opacity="0.15" stroke-width="1.5"/>
<rect x="3386" y="800" width="40" height="243.99908370808862" rx="20.0" ry="12" fill="url(#flute)" stroke="#000" stroke-opacity="0.15" stroke-width="1.5"/>
<rect x="3436" y="797" width="36" height="244.73234855176315" rx="18.0" ry="12" fill="url(#flute)" stroke="#000" stroke-opacity="0.15" stroke-width="1.5"/>
<rect x="3480" y="790" width="30" height="245.66374049239244" rx="15.0" ry="12" fill="url(#flute)" stroke="#000" stroke-opacity="0.15" stroke-width="1.5"/>
<rect x="3517" y="778" width="26" height="246.86574869347714" rx="13.0" ry="12" fill="url(#flute)" stroke="#000" stroke-opacity="0.15" stroke-width="1.5"/>
<ellipse cx="3405" cy="746" rx="144" ry="41" fill="#4A4A4A" stroke="#000" stroke-width="2.5"/>
<clipPath id="tcclip"><ellipse cx="3405" cy="746" rx="144" ry="41"/><rect x="3250" y="680" width="310" height="66"/></clipPath>
<g clip-path="url(#tcclip)">
<polygon points="3293,749 3338,716 3376,712 3395,770 3368,787 3304,776" fill="#0A0A8C"/>
<polygon points="3293,749 3338,716 3376,712 3330,740" fill="#1A1AAA"/>
<text x="3305" y="777" font-family="Liberation Sans, sans-serif" font-weight="bold" font-size="22" fill="#fff" transform="rotate(-12 3305 777)">MILK</text>
<ellipse cx="3328" cy="751" rx="20" ry="8" transform="rotate(-12 3328 751)" fill="none" stroke="#fff" stroke-width="2"/>
</g>
<path d="M3400,730 C3395,715 3410,705 3425,707 C3440,702 3455,712 3455,725 C3462,740 3445,755 3425,752 C3410,755 3398,745 3400,730 Z" fill="#F4F4F4" stroke="#BBB" stroke-width="1.5"/>
<path d="M3390,785 C3400,770 3430,770 3440,780 C3445,790 3430,800 3425,815 C3418,835 3412,860 3395,868 C3385,860 3388,830 3390,800 Z" fill="url(#banana)" stroke="#333" stroke-width="1.5"/>
<path d="M3425,775 C3440,765 3460,770 3462,785 C3465,810 3465,840 3458,848 C3448,848 3440,830 3438,810 C3436,795 3430,790 3425,775 Z" fill="url(#banana)" stroke="#333" stroke-width="1.5"/>
<path d="M3440,745 C3448,730 3455,720 3465,712" stroke="#8AA040" stroke-width="6" fill="none"/>
<path d="M3458,712 C3465,705 3470,710 3468,720" stroke="#E04010" stroke-width="5" fill="none"/>
<polygon points="3349.7,1107.5 3462.5,1107.5 3462.5,1320 3519.6,1320 3406,1433.5 3292.3,1320 3349.7,1320" fill="#000"/>
<defs><linearGradient id="fridgeg" x1="0" y1="0" x2="1" y2="0"><stop offset="0" stop-color="#7A5A48"/><stop offset="0.6" stop-color="#8E6A55"/><stop offset="1" stop-color="#A5521E"/></linearGradient><linearGradient id="engg" x1="0" y1="0" x2="1" y2="1"><stop offset="0" stop-color="#B8B8B8"/><stop offset="0.5" stop-color="#8A8A8A"/><stop offset="1" stop-color="#6A6A6A"/></linearGradient><linearGradient id="cylg" x1="0" y1="0" x2="1" y2="0"><stop offset="0" stop-color="#5A5A5A"/><stop offset="0.5" stop-color="#CFCFCF"/><stop offset="1" stop-color="#6A6A6A"/></linearGradient></defs>
<polygon points="3450.0,1487.0 3595.0,1502.0 3595.0,1720.0 3450.0,1720.0" fill="#BDBDBD" />
<polygon points="3458.0,1494.0 3588.0,1508.0 3588.0,1715.0 3458.0,1715.0" fill="#E6E6E6" />
<polygon points="3462.0,1500.0 3582.0,1512.0 3582.0,1710.0 3462.0,1710.0" fill="#EDEDED" stroke="#CFCFCF" stroke-width="2" />
<polygon points="3303.0,1481.0 3460.0,1481.0 3460.0,1720.0 3303.0,1720.0" fill="url(#fridgeg)" />
<polygon points="3314.0,1495.0 3446.0,1495.0 3446.0,1720.0 3314.0,1720.0" fill="#D4D4D4" />
<polygon points="3314.0,1582.0 3446.0,1582.0 3446.0,1588.0 3314.0,1588.0" fill="#EAEAEA" />
<polygon points="3314.0,1622.0 3446.0,1622.0 3446.0,1628.0 3314.0,1628.0" fill="#EAEAEA" />
<polygon points="3314.0,1668.0 3446.0,1668.0 3446.0,1674.0 3314.0,1674.0" fill="#EAEAEA" />
<polygon points="3314.0,1700.0 3446.0,1700.0 3446.0,1706.0 3314.0,1706.0" fill="#EAEAEA" />
<polygon points="3328.0,1515.0 3350.0,1508.0 3430.0,1600.0 3415.0,1610.0" fill="#EEEEEE" />
<polygon points="3301.7,1470.0 3312.0,1456.0 3460.0,1458.0 3460.0,1481.0 3301.7,1481.0" fill="#4A4A4A" />
<polygon points="3316.0,1460.0 3446.0,1460.0 3446.0,1470.0 3312.0,1470.0" fill="#EDEDED" />
<ellipse cx="3697" cy="1752" rx="40" ry="48" fill="#35383D"/>
<ellipse cx="3692" cy="1748" rx="25" ry="32" fill="none" stroke="#55585D" stroke-width="3"/>
<path d="M3480,1715 C3520,1700 3570,1725 3610,1760 L3620,1790 L3500,1790 Z" fill="#5E6064"/>
<g transform="rotate(32 3532 1645)"><rect x="3517" y="1613" width="30" height="64" fill="url(#cylg)"/><ellipse cx="3532" cy="1613" rx="15" ry="8" fill="#6A6A6A" stroke="#C8C8C8" stroke-width="3"/></g>
<g transform="rotate(32 3568 1628)"><rect x="3553" y="1596" width="30" height="64" fill="url(#cylg)"/><ellipse cx="3568" cy="1596" rx="15" ry="8" fill="#6A6A6A" stroke="#C8C8C8" stroke-width="3"/></g>
<g transform="rotate(32 3625 1605)"><rect x="3610" y="1573" width="30" height="64" fill="url(#cylg)"/><ellipse cx="3625" cy="1573" rx="15" ry="8" fill="#6A6A6A" stroke="#C8C8C8" stroke-width="3"/></g>
<g transform="rotate(32 3650 1635)"><rect x="3635" y="1603" width="30" height="64" fill="url(#cylg)"/><ellipse cx="3650" cy="1603" rx="15" ry="8" fill="#6A6A6A" stroke="#C8C8C8" stroke-width="3"/></g>
<polygon points="3510.0,1660.0 3530.0,1640.0 3640.0,1705.0 3625.0,1735.0" fill="#6A6A6A" />
<polygon points="3440.0,1700.0 3478.0,1645.0 3655.0,1745.0 3665.0,1785.0 3625.0,1792.0 3450.0,1725.0" fill="#8E8E8E" />
<polygon points="3478.0,1645.0 3490.0,1642.0 3662.0,1742.0 3655.0,1748.0" fill="#C8C8C8" />
<polygon points="3495.0,1685.0 3512.0,1662.0 3628.0,1728.0 3612.0,1750.0" fill="#5C5C5C" />
<circle cx="3463" cy="1690" r="9" fill="#3A3A3A"/>
<circle cx="3558" cy="1687" r="16" fill="#A5A5A5" stroke="#707070" stroke-width="3"/><circle cx="3558" cy="1687" r="6" fill="#666"/>
<circle cx="3588" cy="1706" r="16" fill="#A5A5A5" stroke="#707070" stroke-width="3"/><circle cx="3588" cy="1706" r="6" fill="#666"/>
<path d="M3380,1760 C3420,1740 3480,1735 3520,1760 C3560,1790 3600,1830 3640,1840 L3620,1880 L3460,1880 L3380,1840 Z" fill="#7A7A7A"/>
<path d="M3395,1750 C3430,1735 3470,1740 3500,1755 L3520,1790 C3480,1790 3440,1795 3400,1810 Z" fill="#3E4043"/>
<path d="M3560,1830 L3640,1815 L3660,1840 L3640,1870 L3570,1875 Z" fill="#55575A"/>
<path d="M3055,1622 C3080,1625 3100,1630 3110,1615 C3120,1600 3140,1598 3178,1600" fill="none" stroke="#B00000" stroke-width="6" stroke-linecap="round"/>
<path d="M3060,1623 L3118,1688 M3182,1603 L3124,1686 M3182,1603 L3222,1638 M3124,1690 L3230,1712" fill="none" stroke="#B00000" stroke-width="7" stroke-linecap="round"/>
<path d="M3186,1597 L3206,1568" stroke="#555" stroke-width="7"/><rect x="3178" y="1588" width="18" height="9" transform="rotate(-55 3187 1592)" fill="#444"/>
<path d="M3188,1554 C3186,1545 3200,1543 3215,1548 C3230,1552 3245,1556 3243,1562 C3235,1570 3215,1568 3200,1566 C3190,1565 3188,1560 3188,1554 Z" fill="#000"/>
<circle cx="3126" cy="1707" r="26" fill="none" stroke="#666" stroke-width="6"/><path d="M3126,1707 L3126,1683 M3126,1707 L3149,1700 M3126,1707 L3140,1727 M3126,1707 L3110,1727 M3126,1707 L3103,1697" stroke="#777" stroke-width="3"/>
<path d="M3126,1707 L3095,1733" stroke="#222" stroke-width="8" stroke-linecap="round"/><rect x="3088" y="1726" width="16" height="14" rx="3" fill="#111"/><circle cx="3126" cy="1707" r="4" fill="#fff"/>
<path d="M3137,1618 C3150,1622 3165,1640 3172,1660" fill="none" stroke="#C4C8CC" stroke-width="8" stroke-linecap="round"/>
<path d="M3122,1700 L3150,1704" stroke="#C8D8B8" stroke-width="7" stroke-linecap="round"/>
<polygon points="3150.0,1675.0 3162.0,1670.0 3166.0,1705.0 3152.0,1710.0" fill="#B4A8C0" stroke="#555" stroke-width="1.5" />
<polygon points="3187.0,1634.0 3300.0,1639.0 3300.0,1707.0 3230.0,1725.0 3162.0,1692.0 3161.0,1669.0" fill="#F1E7B6" stroke="#333" stroke-width="1.5" />
<polygon points="3162.0,1692.0 3230.0,1725.0 3300.0,1707.0 3300.0,1712.0 3230.0,1730.0 3161.0,1697.0" fill="#D8CC90" />
<polygon points="3211.0,1645.0 3252.0,1648.0 3250.0,1697.0 3208.0,1692.0" fill="#A9CFD8" stroke="#555" stroke-width="1.5" />
<polygon points="3216.0,1650.0 3246.0,1652.0 3244.0,1692.0 3213.0,1688.0" fill="#3E5858" />
<line x1="3223" y1="1654" x2="3221" y2="1687" stroke="#F4F4F4" stroke-width="4"/>
<line x1="3231" y1="1654" x2="3229" y2="1687" stroke="#F4F4F4" stroke-width="4"/>
<line x1="3239" y1="1654" x2="3237" y2="1687" stroke="#F4F4F4" stroke-width="4"/>
<polygon points="3280.0,1650.0 3300.0,1650.0 3300.0,1705.0 3280.0,1702.0" fill="#A9CFD8" stroke="#555" stroke-width="1.5" />
<rect x="3196" y="1651" width="9" height="20" rx="4" fill="#3A4A4A"/>
<circle cx="3190" cy="1680" r="5" fill="#9AB"/><circle cx="3201" cy="1681" r="4" fill="#E07030"/>
<path d="M3192,1710 C3200,1700 3215,1700 3225,1712 L3222,1740 L3195,1745 Z" fill="#000"/>
<path d="M3200,1725 C3230,1700 3260,1705 3290,1705 L3320,1730 L3210,1755 Z" fill="#EDEDED"/>
<path d="M3230,1705 C3240,1690 3270,1690 3280,1700 C3275,1712 3250,1715 3230,1705 Z" fill="#555"/>
<path d="M3370,1720 L3395,1715 L3415,1730 L3410,1760 L3390,1790 L3365,1770 Z" fill="#8B4A1A"/>
<polygon points="3113.0,1740.0 3190.0,1752.0 3200.0,1795.0 3175.0,1800.0 3105.0,1765.0" fill="#C8841A" stroke="#333" stroke-width="1.5" />
<polygon points="3083.0,1847.0 3118.0,1828.0 3152.0,1858.0 3107.0,1884.0" fill="#B35A00" stroke="#333" stroke-width="1.5" />
<ellipse cx="3160" cy="1814" rx="48" ry="42" fill="#3A3C40"/>
<ellipse cx="3168" cy="1805" rx="30" ry="24" fill="#E8E8E8"/>
<path d="M3128,1830 C3150,1850 3190,1850 3205,1840" stroke="#888" stroke-width="6" fill="none"/>
<polygon points="3178.0,1760.0 3360.0,1684.0 3408.8,1799.0 3226.0,1867.0" fill="#7A4A22" stroke="#333" stroke-width="2" />
<polygon points="3189.0,1768.0 3320.0,1713.0 3362.0,1808.0 3231.0,1858.0" fill="#F0F0EA" />
<path d="M3205,1775 L3312,1730 C3320,1735 3345,1790 3348,1800 L3242,1843 C3232,1840 3210,1790 3205,1775 Z" fill="#6B9080"/>
<path d="M3240,1800 C3260,1790 3290,1785 3320,1795 M3275,1750 C3280,1780 3275,1810 3255,1830 M3290,1760 C3295,1780 3300,1790 3330,1800" stroke="#1A1A1A" stroke-width="2" fill="none"/>
<polygon points="3320.0,1700.0 3358.0,1686.0 3395.0,1770.0 3360.0,1783.0" fill="#3A3530" />
<circle cx="3345" cy="1718" r="11" fill="#555" stroke="#222" stroke-width="2"/><circle cx="3360" cy="1748" r="11" fill="#555" stroke="#222" stroke-width="2"/>
<polygon points="3362.0,1775.0 3398.0,1762.0 3408.0,1795.0 3372.0,1808.0" fill="#8A5A30" />
<path d="M3440,1720 L3470,1700 L3500,1715 L3505,1745 L3480,1770 L3448,1762 L3430,1740 Z" fill="#EEEEEE" stroke="#CCC" stroke-width="2"/>
<rect x="3462" y="1765" width="10" height="75" fill="#9A9A9A"/>
<circle cx="3527" cy="1782" r="36" fill="#C4C8CC" stroke="#888" stroke-width="2"/><circle cx="3527" cy="1782" r="10" fill="#444"/>
<polygon points="3533.0,1787.0 3571.0,1763.0 3619.0,1827.0 3585.0,1852.0" fill="#C9B3B3" stroke="#333" stroke-width="1" />
<polygon points="3533.0,1787.0 3585.0,1852.0 3603.0,1864.0 3550.0,1800.0" fill="#705A5A" />
<polygon points="3585.0,1852.0 3619.0,1827.0 3625.0,1849.0 3603.0,1864.0" fill="#B8A0A0" />
<text x="3570" y="1830" font-family="Liberation Sans, sans-serif" font-size="24" fill="#000" transform="rotate(-145 3585 1815)">milk</text>
<path d="M3458,1840 C3455,1815 3480,1810 3510,1815 C3535,1818 3540,1835 3535,1850 L3470,1855 Z" fill="#8B5A2B" stroke="#4A2A10" stroke-width="1.5"/>
<path d="M3468,1835 C3480,1825 3500,1828 3505,1838 C3490,1845 3475,1845 3468,1835 Z" fill="#8E9A7A"/>
<g transform="rotate(-14 3488 1870)"><rect x="3452" y="1855" width="72" height="28" fill="#1010E0"/><rect x="3470" y="1855" width="22" height="28" fill="#F5E000"/><rect x="3466" y="1855" width="4" height="28" fill="#E00000"/><rect x="3492" y="1855" width="4" height="28" fill="#E00000"/></g>
<path d="M3520,1845 C3535,1840 3540,1850 3530,1870 L3510,1895 L3500,1880 Z" fill="#CFCF70"/>
<rect x="3473" y="1885" width="22" height="18" rx="4" fill="#6B4A22"/>
<rect x="3550" y="1872" width="32" height="22" rx="4" fill="#6B4A22"/>
<rect x="3535" y="1888" width="16" height="18" rx="4" fill="#6B4A22"/>
<rect x="3590" y="1868" width="20" height="16" rx="4" fill="#6B4A22"/>
<path d="M3665,1830 C3670,1805 3690,1800 3715,1810 L3725,1865 C3700,1870 3680,1860 3665,1830 Z" fill="#DCEBF5" stroke="#2A4A6A" stroke-width="2"/>
<path d="M3675,1810 C3667,1830 3671,1855 3681,1866" stroke="#2A4A6A" stroke-width="2" fill="none"/>
<path d="M3683,1810 C3675,1830 3679,1855 3689,1866" stroke="#2A4A6A" stroke-width="2" fill="none"/>
<path d="M3691,1810 C3683,1830 3687,1855 3697,1866" stroke="#2A4A6A" stroke-width="2" fill="none"/>
<path d="M3699,1810 C3691,1830 3695,1855 3705,1866" stroke="#2A4A6A" stroke-width="2" fill="none"/>
<path d="M3707,1810 C3699,1830 3703,1855 3713,1866" stroke="#2A4A6A" stroke-width="2" fill="none"/>
<path d="M3715,1810 C3707,1830 3711,1855 3721,1866" stroke="#2A4A6A" stroke-width="2" fill="none"/>
<g transform="rotate(40 3640 1895)"><rect x="3590" y="1882" width="90" height="28" rx="8" fill="#1E8C1E"/><rect x="3570" y="1890" width="26" height="12" fill="#1E8C1E"/><rect x="3630" y="1885" width="22" height="22" fill="#C8C8C8"/></g>
<polygon points="3655,1862 3663,1859 3659,1869" fill="#1EA01E"/>
<polygon points="3670,1880 3678,1877 3674,1887" fill="#1EA01E"/>
<polygon points="3630,1915 3638,1912 3634,1922" fill="#1EA01E"/>
<polygon points="3648,1930 3656,1927 3652,1937" fill="#1EA01E"/>
<polygon points="3680,1905 3688,1902 3684,1912" fill="#1EA01E"/>
<g transform="rotate(-22 3172 1882)"><rect x="3135" y="1860" width="76" height="46" rx="6" fill="#F00000" stroke="#333" stroke-width="1.5"/><path d="M3165,1860 L3158,1870 L3168,1878 L3160,1890 L3170,1898 L3165,1906 L3185,1906 L3180,1896 L3190,1886 L3182,1876 L3190,1866 L3185,1860 Z" fill="#FFF"/><ellipse cx="3138" cy="1883" rx="8" ry="23" fill="#DDD" stroke="#333" stroke-width="1.5"/></g>
<circle cx="3256" cy="1884" r="36" fill="#C8C8CC" stroke="#888" stroke-width="2"/><path d="M3225,1870 A36,36 0 0 1 3256,1848 L3256,1884 Z" fill="#D8C8DC"/><circle cx="3256" cy="1884" r="11" fill="#FFF" stroke="#777" stroke-width="2"/>
<path d="M3292,1845 C3280,1835 3290,1825 3305,1830 C3320,1825 3328,1838 3318,1848 C3312,1860 3312,1880 3320,1890 C3325,1905 3300,1905 3292,1895 C3295,1880 3298,1860 3292,1845 Z" fill="#C9A060"/>
<path d="M3285,1840 C3290,1828 3320,1828 3325,1840 Z M3290,1893 C3295,1902 3318,1902 3322,1893 Z" fill="#900000" stroke="#900000" stroke-width="6"/>
<polygon points="3326.0,1855.0 3431.0,1867.0 3414.0,1925.0 3327.0,1902.0" fill="#DCDCDC" stroke="#BBB" stroke-width="1.5" />
<polygon points="3319.5,1849.0 3338.0,1833.0 3440.0,1838.0 3431.0,1867.0" fill="#2B8FD6" />
<polygon points="3319.5,1849.0 3431.0,1867.0 3431.0,1873.0 3320.0,1855.0" fill="#1C70B0" />
<circle cx="3343" cy="1840" r="5" fill="#EEE"/><circle cx="3413" cy="1848" r="5" fill="#EEE"/>
<path d="M3375,1870 C3385,1885 3395,1900 3405,1920 M3400,1875 C3402,1895 3410,1905 3412,1915" stroke="#222" stroke-width="1.5" fill="none"/>
<path d="M3400,1915 C3420,1905 3440,1910 3455,1915 C3470,1920 3470,1940 3450,1945 C3420,1950 3395,1940 3390,1932 Z" fill="#A8D500"/>
<path d="M2906.4,1303.8 A501.1,816.8 0 1 0 3908.6,1303.8 A501.1,816.8 0 1 0 2906.4,1303.8 Z M3090.14,745.74 L3749.37,1818.85 A458.0,774.0 0 0 0 3090.14,745.74 Z M3065.63,788.75 L3724.86,1861.86 A458.0,774.0 0 0 1 3065.63,788.75 Z" fill="#C00000" fill-rule="evenodd" stroke="#000" stroke-width="4.5" stroke-linejoin="miter"/>
<text x="1385.7" y="327" font-family="Liberation Sans, sans-serif" font-size="300" font-weight="normal" fill="#7030A0" textLength="2234.6" lengthAdjust="spacingAndGlyphs" >reciclar/reciclaje</text>
<text x="1358.9" y="588" font-family="Liberation Sans, sans-serif" font-size="68" font-weight="normal" fill="#000" textLength="306.4" lengthAdjust="spacingAndGlyphs" >productos</text>
<text x="3305.9" y="667.7" font-family="Liberation Sans, sans-serif" font-size="68" font-weight="normal" fill="#000" textLength="196.1" lengthAdjust="spacingAndGlyphs" >basura</text>
<text x="3262.0" y="2014.7" font-family="Liberation Sans, sans-serif" font-size="68" font-weight="normal" fill="#000" textLength="297.1" lengthAdjust="spacingAndGlyphs" >vertedero</text>
<filter id="glow" x="-20%" y="-50%" width="140%" height="200%"><feMorphology in="SourceAlpha" operator="dilate" radius="6" result="d"/><feGaussianBlur in="d" stdDeviation="5" result="b"/><feFlood flood-color="#fff"/><feComposite in2="b" operator="in" result="w"/><feMerge><feMergeNode in="w"/><feMergeNode in="SourceGraphic"/></feMerge></filter>
<text x="1514.5" y="2012.8" font-family="Liberation Sans, sans-serif" font-size="70" font-weight="bold" fill="#7030A0" textLength="260.8" lengthAdjust="spacingAndGlyphs" filter="url(#glow)">recursos</text>
<text x="1030.8" y="2228.1" font-family="Liberation Sans, sans-serif" font-size="40" font-weight="normal" fill="#000" textLength="2118.2" lengthAdjust="spacingAndGlyphs" >[CC BY-SA 4.0] Stephen Fleenor/Seidlitz Education For image attribution, see www.thevisualnonglossary.com/att.html#S2077</text>
</svg></body></html>
